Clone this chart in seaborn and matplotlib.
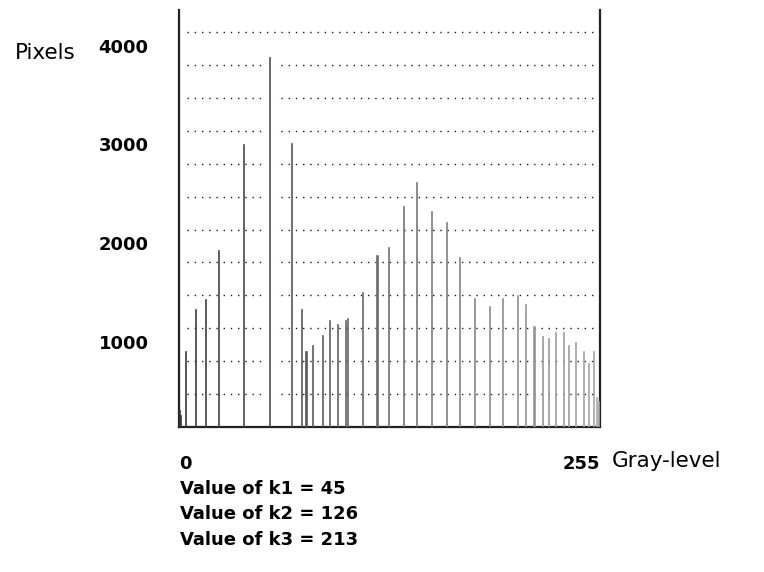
import numpy as np
import pandas as pd
import matplotlib
matplotlib.use("Agg")
import matplotlib.pyplot as plt
import matplotlib.transforms as mtransforms
import seaborn as sns

# ---- data ----
gray_levels = [0, 1, 4, 10, 16, 24, 39, 55, 68, 74, 77, 81, 87, 91, 96, 101, 102,
               111, 120, 127, 136, 144, 153, 162, 170, 179, 188, 196, 205, 210,
               215, 220, 224, 228, 233, 236, 240, 245, 248, 251, 253, 254]
pixel_counts = [170, 120, 770, 1200, 1300, 1790, 2870, 3745, 2880, 1200, 765, 835,
                930, 1080, 1040, 1080, 1100, 1365, 1740, 1825, 2240, 2480, 2190,
                2075, 1720, 1310, 1225, 1310, 1335, 1250, 1020, 920, 905, 965, 965,
                835, 865, 765, 650, 765, 300, 260]
y_ticks = [1000, 2000, 3000, 4000]
y_tick_labels = ["1000", "2000", "3000", "4000"]
x_ticks = [0, 255]
x_tick_labels = ["0", "255"]
grid_levels = [333.3, 666.7, 1000, 1333.3, 1666.7, 2000, 2333.3, 2666.7, 3000,
               3333.3, 3666.7, 4000]
thresholds = [("k1", 45), ("k2", 126), ("k3", 213)]

df = pd.DataFrame({"level": gray_levels, "count": pixel_counts})

sns.set_style("white")
plt.rcParams["font.family"] = ["DejaVu Sans"]
plt.rcParams["text.color"] = "black"
plt.rcParams["xtick.color"] = "black"
plt.rcParams["ytick.color"] = "black"

fig = plt.figure(figsize=(7.64, 5.72), dpi=100)
ax = fig.add_axes([179 / 764, 145 / 572, 421 / 764, 417 / 572])

# dotted horizontal guide lines
ax.hlines(grid_levels, 5, 251, colors="#1a1a1a", linestyles=(0, (1, 4.2)),
          linewidth=1.0, zorder=1)

# white gap around the tallest stem
imax = int(np.argmax(pixel_counts))
ax.vlines(gray_levels[imax], 0, pixel_counts[imax], colors="white",
          linewidth=8.5, zorder=2)

sns.histplot(data=df, x="level", weights="count", discrete=True, shrink=0.8,
             ax=ax, linewidth=0, alpha=1, zorder=3)
for p in ax.patches:
    cx = p.get_x() + p.get_width() / 2
    shade = 0.2 + 0.45 * cx / 255
    col = (shade, shade, shade)
    p.set_facecolor(col)
    p.set_edgecolor(col)
    p.set_linewidth(0.45)

ax.set_xlim(0, 255)
ax.set_ylim(0, 4225)

for s in ["left", "right", "bottom"]:
    ax.spines[s].set_visible(True)
    ax.spines[s].set_color("#222222")
    ax.spines[s].set_linewidth(1.6)
ax.spines["top"].set_visible(False)

ax.set_xlabel("")
ax.set_ylabel("")

ax.set_yticks(y_ticks)
ax.set_yticklabels(y_tick_labels, fontsize=13, fontweight="bold", color="black")
ax.tick_params(axis="y", length=0, pad=22)
off = mtransforms.ScaledTranslation(0, -13.5 / 100, fig.dpi_scale_trans)
for lbl in ax.get_yticklabels():
    lbl.set_transform(lbl.get_transform() + off)

ax.set_xticks(x_ticks)
ax.set_xticklabels(x_tick_labels, fontsize=13, fontweight="bold", color="black")
ax.tick_params(axis="x", length=0, pad=20)
xl = ax.get_xticklabels()
xl[0].set_ha("left")
xl[1].set_ha("right")

fig.text(15 / 764, 1 - 53 / 572, "Pixels", fontsize=15.5, va="center", ha="left",
         color="black")
fig.text(612 / 764, 1 - 461 / 572, "Gray-level", fontsize=15.5, va="center",
         ha="left", color="black")

ys = [489, 514, 540]
for (name, val), yy in zip(thresholds, ys):
    fig.text(180 / 764, 1 - yy / 572, f"Value of {name} = {val}", fontsize=13,
             fontweight="bold", va="center", ha="left", color="black")

fig.savefig("out.png", dpi=100)
